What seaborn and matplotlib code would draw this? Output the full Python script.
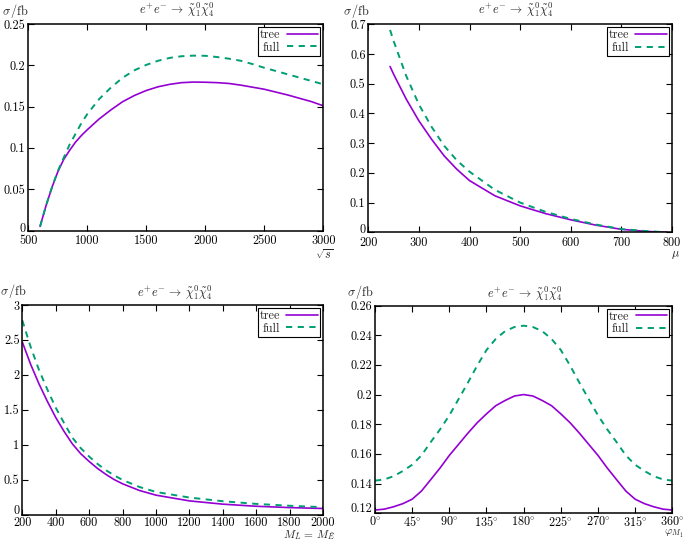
import matplotlib
matplotlib.use("Agg")
import matplotlib.pyplot as plt
import matplotlib.transforms as mtransforms
import seaborn as sns

# panel 1: cross section vs sqrt(s)
sqrt_s = [600, 650, 700, 750, 800, 850, 900, 950, 1000, 1100, 1200, 1300, 1400, 1500, 1600,
          1700, 1800, 1900, 2000, 2100, 2200, 2300, 2400, 2500, 2600, 2700, 2800, 2900, 3000]
s_tree = [0.005, 0.030, 0.052, 0.071, 0.086, 0.097, 0.107, 0.115, 0.122, 0.135, 0.146, 0.156,
          0.1635, 0.1695, 0.174, 0.177, 0.179, 0.1797, 0.1795, 0.179, 0.178, 0.176, 0.1735,
          0.171, 0.1675, 0.164, 0.160, 0.156, 0.151]
s_full = [0.005, 0.030, 0.052, 0.072, 0.088, 0.104, 0.117, 0.130, 0.141, 0.159, 0.173, 0.185,
          0.194, 0.2005, 0.2055, 0.209, 0.211, 0.2117, 0.2115, 0.210, 0.208, 0.2055, 0.2015,
          0.197, 0.193, 0.189, 0.185, 0.181, 0.177]

# panel 2: cross section vs mu
mu = [243, 250, 275, 300, 325, 350, 375, 400, 450, 500, 550, 600, 650, 700, 750, 790]
mu_tree = [0.558, 0.532, 0.448, 0.375, 0.313, 0.257, 0.212, 0.174, 0.123, 0.089, 0.063,
           0.042, 0.024, 0.010, 0.003, 0.0]
mu_full = [0.681, 0.644, 0.526, 0.430, 0.355, 0.291, 0.242, 0.204, 0.143, 0.100, 0.069,
           0.045, 0.026, 0.011, 0.004, 0.0]

# panel 3: cross section vs slepton mass
m_sl = [200, 250, 300, 350, 400, 450, 500, 550, 600, 650, 700, 750, 800, 900, 1000, 1200,
        1400, 1600, 1800, 2000]
m_tree = [2.47, 2.15, 1.87, 1.62, 1.39, 1.19, 1.01, 0.87, 0.76, 0.66, 0.575, 0.50, 0.44,
          0.345, 0.277, 0.195, 0.148, 0.118, 0.099, 0.086]
m_full = [2.78, 2.40, 2.07, 1.79, 1.53, 1.31, 1.10, 0.95, 0.83, 0.725, 0.635, 0.56, 0.495,
          0.395, 0.323, 0.243, 0.190, 0.152, 0.125, 0.105]

# panel 4: cross section vs phase of M1
phi = [0, 11.25, 22.5, 33.75, 45, 56.25, 67.5, 78.75, 90, 101.25, 112.5, 123.75, 135,
       146.25, 157.5, 168.75, 180, 191.25, 202.5, 213.75, 225, 236.25, 247.5, 258.75, 270,
       281.25, 292.5, 303.75, 315, 326.25, 337.5, 348.75, 360]
p_tree = [0.1222, 0.1228, 0.1244, 0.1265, 0.1295, 0.1350, 0.1427, 0.1505, 0.1590, 0.1665,
          0.1740, 0.1810, 0.1870, 0.1925, 0.1960, 0.1990, 0.2000, 0.1990, 0.1960, 0.1925,
          0.1870, 0.1810, 0.1740, 0.1665, 0.1590, 0.1505, 0.1427, 0.1350, 0.1295, 0.1265,
          0.1244, 0.1228, 0.1222]
p_full = [0.1420, 0.1428, 0.1450, 0.1485, 0.1527, 0.1590, 0.1680, 0.1765, 0.1860, 0.1970,
          0.2080, 0.2195, 0.2300, 0.2375, 0.2427, 0.2455, 0.2464, 0.2455, 0.2427, 0.2375,
          0.2300, 0.2195, 0.2080, 0.1970, 0.1860, 0.1765, 0.1680, 0.1590, 0.1527, 0.1485,
          0.1450, 0.1428, 0.1420]

xt1 = [500, 1000, 1500, 2000, 2500, 3000]
yt1 = [0, 0.05, 0.1, 0.15, 0.2, 0.25]
yl1 = ["0", "0.05", "0.1", "0.15", "0.2", "0.25"]
xt2 = [200, 300, 400, 500, 600, 700, 800]
yt2 = [0, 0.1, 0.2, 0.3, 0.4, 0.5, 0.6, 0.7]
yl2 = ["0", "0.1", "0.2", "0.3", "0.4", "0.5", "0.6", "0.7"]
xt3 = [200, 400, 600, 800, 1000, 1200, 1400, 1600, 1800, 2000]
yt3 = [0, 0.5, 1, 1.5, 2, 2.5, 3]
yl3 = ["0", "0.5", "1", "1.5", "2", "2.5", "3"]
xt4 = [0, 45, 90, 135, 180, 225, 270, 315, 360]
xl4 = [r"$0^{\circ}$", r"$45^{\circ}$", r"$90^{\circ}$", r"$135^{\circ}$", r"$180^{\circ}$",
       r"$225^{\circ}$", r"$270^{\circ}$", r"$315^{\circ}$", r"$360^{\circ}$"]
yt4 = [0.12, 0.14, 0.16, 0.18, 0.2, 0.22, 0.24, 0.26]
yl4 = ["0.12", "0.14", "0.16", "0.18", "0.2", "0.22", "0.24", "0.26"]

sns.set_theme(style="ticks")
plt.rcParams["font.family"] = ["cmr10", "DejaVu Serif"]
plt.rcParams["mathtext.fontset"] = "cm"
plt.rcParams["axes.unicode_minus"] = False
plt.rcParams["axes.formatter.use_mathtext"] = True
plt.rcParams["xtick.direction"] = "in"
plt.rcParams["ytick.direction"] = "in"
plt.rcParams["xtick.top"] = True
plt.rcParams["ytick.right"] = True

TREE = "#9400d3"
FULL = "#009e73"
FS = 8.8

fig = plt.figure(figsize=(6.85, 5.41), dpi=100)
W, H = 685, 541

def make_ax(l, r, t, b):
    return fig.add_axes([l / W, 1 - b / H, (r - l) / W, (b - t) / H])

ax1 = make_ax(28.3, 323.3, 24, 230.5)
ax2 = make_ax(368.3, 672, 24.3, 232.3)
ax3 = make_ax(22.3, 323, 305, 514.5)
ax4 = make_ax(375, 672.3, 305.5, 513.3)

title = r"$e^{+}e^{-}\,\rightarrow\,\tilde{\chi}_1^0\tilde{\chi}_4^0$"

# (ax, x, tree, full, xlim, ylim, xticks, xticklabels, yticks, yticklabels,
#  xlabel, xlabel pos, xlabel size, xtick pad, lift of lowest y label, sigma pos, title pos)
panels = [
    (ax1, sqrt_s, s_tree, s_full, (500, 3000), (0, 0.25), xt1, None, yt1, yl1,
     r"$\sqrt{s}$", (1.035, -0.118), FS, 3, 2.5, (-0.088, 1.063), (0.503, 1.07)),
    (ax2, mu, mu_tree, mu_full, (200, 800), (0, 0.7), xt2, None, yt2, yl2,
     r"$\mu$", (1.026, -0.108), FS, 3, 2.5, (-0.082, 1.063), (0.485, 1.07)),
    (ax3, m_sl, m_tree, m_full, (200, 2000), (0, 3), xt3, None, yt3, yl3,
     r"$M_{\tilde{L}}\,=\,M_{\tilde{E}}$", (1.04, -0.096), 8.2, 1.5, 4.0,
     (-0.073, 1.068), (0.507, 1.056)),
    (ax4, phi, p_tree, p_full, (0, 360), (0.12, 0.26), xt4, xl4, yt4, yl4,
     r"$\varphi_{M_1}$", (1.037, -0.1), 8.2, 1.5, 4.0, (-0.094, 1.066), (0.503, 1.056)),
]

for (ax, x, yt, yf, xlim, ylim, xticks, xlabels, yticks, ylabels,
     xlab, xlab_pos, xlab_fs, xpad, lift_pt, ylab_pos, t_pos) in panels:
    sns.lineplot(x=x, y=yt, ax=ax, color=TREE, lw=1.2, label="tree")
    sns.lineplot(x=x, y=yf, ax=ax, color=FULL, lw=1.4, linestyle=(0, (3.2, 2.8)), label="full")
    ax.set_xlim(*xlim)
    ax.set_ylim(*ylim)
    ax.set_xticks(xticks)
    if xlabels is not None:
        ax.set_xticklabels(xlabels)
    else:
        ax.set_xticklabels([str(v) for v in xticks])
    ax.set_yticks(yticks)
    ax.set_yticklabels(ylabels)
    ax.tick_params(labelsize=FS, length=4, width=0.8, colors="black")
    ax.tick_params(axis="x", pad=xpad)
    ax.tick_params(axis="y", pad=2)
    # lowest y label sits a touch above the corner, as in the original
    lift = mtransforms.ScaledTranslation(0, lift_pt / 72, fig.dpi_scale_trans)
    lab0 = ax.get_yticklabels()[0]
    lab0.set_transform(lab0.get_transform() + lift)
    for sp in ax.spines.values():
        sp.set_linewidth(1.1)
        sp.set_color("black")
    ax.set_xlabel("")
    ax.set_ylabel("")
    ax.text(xlab_pos[0], xlab_pos[1], xlab, transform=ax.transAxes, ha="right",
            va="center", fontsize=xlab_fs)
    ax.text(ylab_pos[0], ylab_pos[1], r"$\sigma\,/\mathrm{fb}$", transform=ax.transAxes,
            ha="left", va="center", fontsize=FS)
    ax.text(t_pos[0], t_pos[1], title, transform=ax.transAxes, ha="center",
            va="center", fontsize=FS)
    leg = ax.legend(loc="upper right", markerfirst=False, frameon=True, fancybox=False,
                    edgecolor="black", framealpha=1, fontsize=FS, handlelength=2.6,
                    borderpad=0.15, labelspacing=0.05, handletextpad=0.5,
                    borderaxespad=0.25)
    leg.get_frame().set_linewidth(0.8)

fig.savefig("out.png", dpi=100)
